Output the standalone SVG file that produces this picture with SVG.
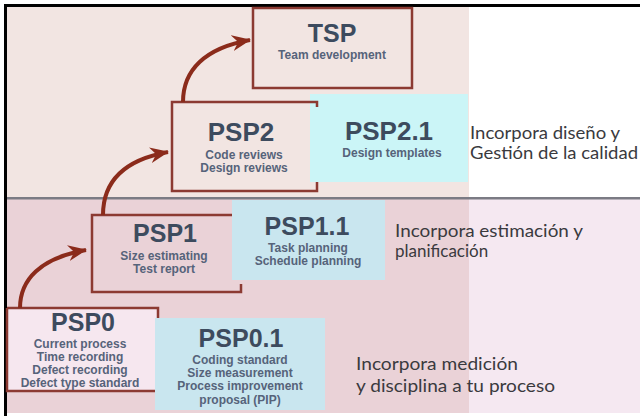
<svg xmlns="http://www.w3.org/2000/svg" width="640" height="416" viewBox="0 0 640 416">
<style>
.bd{fill:none;stroke:#8c3a32;stroke-width:2.5}
.t{font-family:"Liberation Sans",Arial,sans-serif;font-weight:bold;fill:#3d4b5e;text-anchor:middle}
.s{font-family:"Liberation Sans",Arial,sans-serif;font-weight:bold;fill:#56637a;text-anchor:middle;font-size:12px}
.r{font-family:Lato,"Open Sans",sans-serif;fill:#3a3a3e;font-size:17px}
.arr{fill:none;stroke:#8b2b1b;stroke-width:4;marker-end:url(#ah)}
</style>
<defs>
<marker id="ah" markerUnits="userSpaceOnUse" markerWidth="20" markerHeight="16" refX="18" refY="8" orient="auto" viewBox="0 0 20 16">
<path d="M0,0 L19,8 L0,16 L6,8 z" fill="#8b2b1b"/>
</marker>
</defs>
<!-- backgrounds -->
<rect x="0" y="0" width="640" height="416" fill="#ffffff"/>
<rect x="7" y="7" width="462" height="191" fill="#f2e5e2"/>
<rect x="7" y="199" width="462" height="214" fill="#ead2d7"/>
<rect x="469" y="199" width="171" height="214" fill="#f5e8f1"/>
<rect x="4" y="197" width="636" height="2.5" fill="#7b7b84"/>
<path d="M5.5,416 V5.5 H640" fill="none" stroke="#000" stroke-width="3"/>

<g id="psp21">
<rect x="310" y="94" width="158" height="88" fill="#cbf5f7"/>
<text class="t" x="389" y="139.5" font-size="26">PSP2.1</text>
<text class="s" x="392" y="156.5" font-size="11.5">Design templates</text>
</g>
<g id="psp2">
<path class="bd" d="M317,107 V102 H172 V191 H317 V182"/>
<text class="t" x="241" y="141" font-size="26">PSP2</text>
<text class="s" x="244" y="159" font-size="12.5">Code reviews</text>
<text class="s" x="244" y="172" font-size="12.5">Design reviews</text>
</g>
<g id="tsp">
<rect class="bd" x="253" y="8" width="159" height="80"/>
<text class="t" x="332" y="42" font-size="25">TSP</text>
<text class="s" x="332" y="59">Team development</text>
</g>
<g id="psp11">
<rect x="232" y="200" width="153" height="80" fill="#c9e6ef"/>
<text class="t" x="307" y="234.5" font-size="25">PSP1.1</text>
<text class="s" x="308" y="251.5">Task planning</text>
<text class="s" x="308" y="264.5">Schedule planning</text>
</g>
<g id="psp1">
<path class="bd" d="M232,215 H92 V292 H241 V284"/>
<text class="t" x="165" y="242" font-size="25">PSP1</text>
<text class="s" x="164" y="260" font-size="13">Size estimating</text>
<text class="s" x="164" y="273" font-size="13">Test report</text>
</g>
<g id="psp0">
<rect x="7" y="308" width="150" height="83" fill="#f6e7ef"/>
<path class="bd" d="M7,308 H158 V318 M7,308 V391 H155"/>
<text class="t" x="83" y="331" font-size="25">PSP0</text>
<text class="s" x="80" y="348">Current process</text>
<text class="s" x="80" y="361">Time recording</text>
<text class="s" x="80" y="374">Defect recording</text>
<text class="s" x="80" y="387">Defect type standard</text>
</g>
<g id="psp01">
<rect x="155" y="318" width="170" height="92" fill="#c9e6ef"/>
<text class="t" x="241" y="347" font-size="25">PSP0.1</text>
<text class="s" x="240" y="363.5" font-size="11.8">Coding standard</text>
<text class="s" x="240" y="376.5" font-size="11.8">Size measurement</text>
<text class="s" x="240" y="390" font-size="11.8">Process improvement</text>
<text class="s" x="240" y="403.5" font-size="11.8">proposal (PIP)</text>
</g>

<g id="connectors">
<path class="arr" d="M20,308 C20,280 40,258 86,250"/>
<path class="arr" d="M103,215 C103,182 124,160 168,152"/>
<path class="arr" d="M183,102 C183,70 205,48 250,40"/>
</g>

<g id="notes">
<text class="r" x="470" y="139" textLength="150" lengthAdjust="spacingAndGlyphs">Incorpora diseño y</text>
<text class="r" x="470" y="159" textLength="168" lengthAdjust="spacingAndGlyphs">Gestión de la calidad</text>
<text class="r" x="395" y="237" textLength="188" lengthAdjust="spacingAndGlyphs">Incorpora estimación y</text>
<text class="r" x="395" y="257">planificación</text>
<text class="r" x="356" y="370" textLength="162" lengthAdjust="spacingAndGlyphs">Incorpora medición</text>
<text class="r" x="356" y="392" textLength="199" lengthAdjust="spacingAndGlyphs">y disciplina a tu proceso</text>
</g>
</svg>
